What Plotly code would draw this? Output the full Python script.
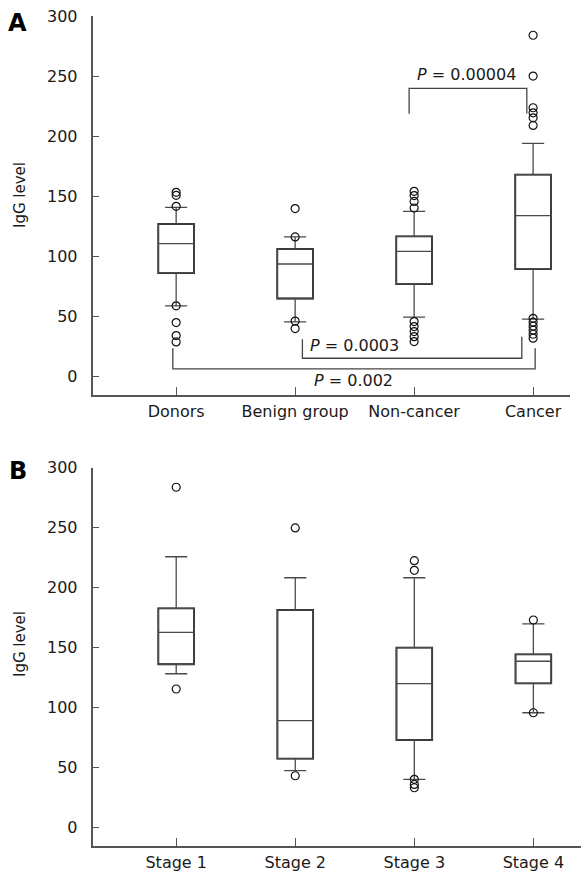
import plotly.graph_objects as go

W, H = 581, 872

# ---------------- data ----------------
groups_a = ["Donors", "Benign group", "Non-cancer", "Cancer"]
lower_a = [58.9, 45.5, 49.5, 47.8]
q1_a = [86.2, 65.0, 77.0, 89.5]
median_a = [110.6, 93.7, 104.2, 133.9]
q3_a = [127.0, 106.2, 116.7, 168.0]
upper_a = [140.8, 116.2, 137.5, 194.0]
outliers_a = [
    [153.3, 150.8, 141.7, 58.9, 45.0, 34.2, 28.9],
    [139.8, 116.2, 46.2, 40.0],
    [154.2, 150.6, 145.8, 140.3, 45.8, 41.7, 37.5, 33.3, 29.2],
    [284.0, 250.0, 223.7, 219.5, 215.3, 209.0, 48.5, 45.3, 42.0, 38.7, 35.3, 32.0],
]

groups_b = ["Stage 1", "Stage 2", "Stage 3", "Stage 4"]
lower_b = [128.3, 47.5, 40.3, 95.8]
q1_b = [136.2, 57.5, 73.1, 120.3]
median_b = [162.8, 89.2, 120.0, 138.7]
q3_b = [182.8, 181.4, 150.0, 144.5]
upper_b = [225.8, 208.3, 208.3, 169.8]
outliers_b = [
    [283.7, 115.6],
    [249.8, 43.3],
    [222.5, 214.5, 40.3, 36.1, 33.3],
    [173.1, 95.8],
]

y_ticks = [0, 50, 100, 150, 200, 250, 300]

# significance brackets: (x_left, top_left, x_right, top_right, bar_y, label, label_x, label_y, xanchor)
brackets_a = [
    (1.958, 218.7, 2.947, 219.0, 239.8, "<i>P</i> = 0.00004", 2.44, 251.0, "center"),
    (1.061, 31.2, 2.905, 33.3, 15.3, "<i>P</i> = 0.0003", 1.105, 25.8, "left"),
    (-0.028, 23.7, 3.017, 23.7, 6.4, "<i>P</i> = 0.002", 1.49, -3.0, "center"),
]

FONT = "DejaVu Sans"
TXT = "#1a1a1a"
AX = "#555555"

fig = go.Figure()


def add_panel(xa, ya, q1, med, q3, lo, up, outs):
    xs = list(range(len(q1)))
    # whiskers, caps and median (thin grey)
    fig.add_trace(go.Box(
        x=xs, q1=q1, median=med, q3=q3, lowerfence=lo, upperfence=up,
        xaxis=xa, yaxis=ya, width=0.3, whiskerwidth=0.62, boxpoints=False,
        fillcolor="rgba(0,0,0,0)", line=dict(color="#4a4a4a", width=1.3),
        showlegend=False, hoverinfo="skip",
    ))
    # box outline (thicker black), drawn as an unfilled bar from q1 to q3
    fig.add_trace(go.Bar(
        x=xs, base=q1, y=[b - a for a, b in zip(q1, q3)], width=0.3,
        xaxis=xa, yaxis=ya,
        marker=dict(color="rgba(0,0,0,0)", line=dict(color="#111111", width=1.8)),
        showlegend=False, hoverinfo="skip",
    ))
    ox, oy = [], []
    for i, vals in enumerate(outs):
        for v in vals:
            ox.append(i)
            oy.append(v)
    fig.add_trace(go.Scatter(
        x=ox, y=oy, mode="markers", xaxis=xa, yaxis=ya,
        marker=dict(symbol="circle-open", size=8, color="#111111", line=dict(width=1.2)),
        showlegend=False, hoverinfo="skip",
    ))


add_panel("x", "y", q1_a, median_a, q3_a, lower_a, upper_a, outliers_a)
add_panel("x2", "y2", q1_b, median_b, q3_b, lower_b, upper_b, outliers_b)

# brackets
for (xl, tl, xr, tr, yb, lab, lx, ly, anc) in brackets_a:
    fig.add_shape(type="path", xref="x", yref="y",
                  path=f"M {xl},{tl} L {xl},{yb} L {xr},{yb} L {xr},{tr}",
                  line=dict(color="#444444", width=1.3))
    fig.add_annotation(x=lx, y=ly, xref="x", yref="y", text=lab, showarrow=False,
                       xanchor=anc, yanchor="middle",
                       font=dict(family=FONT, size=16, color=TXT))

xaxis_common = dict(
    tickmode="array", tickvals=[0, 1, 2, 3], ticks="inside", ticklen=8,
    tickcolor=AX, tickwidth=1.3, showline=True, linecolor=AX, linewidth=1.5,
    showgrid=False, zeroline=False, tickfont=dict(family=FONT, size=16, color=TXT),
    ticklabelstandoff=1, automargin=False,
)
yaxis_common = dict(
    tickmode="array", tickvals=y_ticks, ticks="inside", ticklen=7,
    tickcolor=AX, tickwidth=1.3, showline=True, linecolor=AX, linewidth=1.5,
    showgrid=False, zeroline=False, range=[-15.25, 300],
    tickfont=dict(family=FONT, size=16, color=TXT), ticklabelstandoff=10,
    automargin=False,
)

fig.update_layout(
    width=W, height=H, margin=dict(l=0, r=0, t=0, b=0, autoexpand=False),
    paper_bgcolor="white", plot_bgcolor="white",
    xaxis=dict(domain=[92.5 / W, 570 / W], range=[-0.703, 3.31], ticktext=groups_a,
               anchor="y", **xaxis_common),
    yaxis=dict(domain=[1 - 395 / H, 1 - 16 / H], anchor="x", **yaxis_common),
    xaxis2=dict(domain=[92.5 / W, 1.0], range=[-0.703, 3.40], ticktext=groups_b,
                anchor="y2", **xaxis_common),
    yaxis2=dict(domain=[1 - 846 / H, 1 - 467.7 / H], anchor="x2", **yaxis_common),
)

# axis titles and panel letters
for ty in (195, 644):
    fig.add_annotation(x=20 / W, y=1 - ty / H, xref="paper", yref="paper", text="IgG level",
                       textangle=-90, showarrow=False, xanchor="center", yanchor="middle",
                       font=dict(family=FONT, size=15, color=TXT))
for lab, lx, ly in (("A", 17.5, 22.5), ("B", 18.3, 471)):
    fig.add_annotation(x=lx / W, y=1 - ly / H, xref="paper", yref="paper", text=f"<b>{lab}</b>",
                       showarrow=False, xanchor="center", yanchor="middle",
                       font=dict(family=FONT, size=24, color="#000000"))

fig.write_html("out.html")
